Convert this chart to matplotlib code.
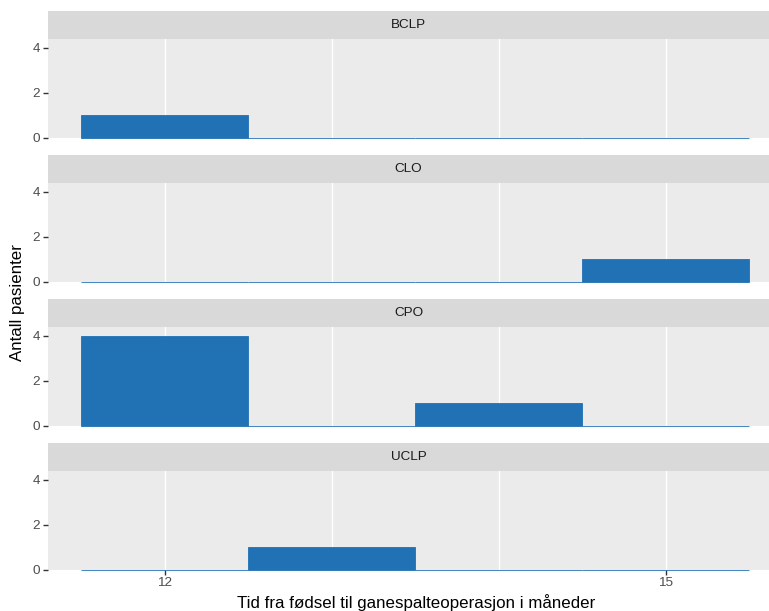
import numpy as np
import matplotlib.pyplot as plt

# diagnoses (facets) and counts per one-month bin
groups = ["BCLP", "CLO", "CPO", "UCLP"]
bin_centers = [12, 13, 14, 15]
counts = {
    "BCLP": [1, 0, 0, 0],
    "CLO": [0, 0, 0, 1],
    "CPO": [4, 0, 1, 0],
    "UCLP": [0, 1, 0, 0],
}
x_ticks = [12, 15]
y_ticks = [0, 2, 4]

BAR = "#2171B5"
W, H = 769, 611

plt.rcParams['font.family'] = ['Liberation Sans', 'DejaVu Sans']

fig = plt.figure(figsize=(W / 100, H / 100), dpi=100)

left, right = 48, 769
strip_tops = [11, 155, 299, 443]
strip_h = 28
panel_h = 98.7

for i, g in enumerate(groups):
    top = strip_tops[i]
    # strip
    sx = fig.add_axes([left / W, 1 - (top + strip_h) / H, (right - left) / W, strip_h / H])
    sx.set_facecolor("#D9D9D9")
    sx.set_xticks([])
    sx.set_yticks([])
    for s in sx.spines.values():
        s.set_visible(False)
    sx.text(0.5, 0.5, g, ha="center", va="center", fontsize=9.7, color="#1A1A1A",
            transform=sx.transAxes)

    # panel
    ax = fig.add_axes([left / W, 1 - (top + strip_h + panel_h) / H, (right - left) / W, panel_h / H])
    ax.set_facecolor("#EBEBEB")
    for s in ax.spines.values():
        s.set_visible(False)
    ax.set_xlim(11.3, 15.62)
    ax.set_ylim(0, 4.4)
    ax.set_xticks(x_ticks)
    ax.set_xticks([13, 14], minor=True)
    ax.grid(True, which="both", axis="x", color="white", linewidth=1.0)
    ax.set_axisbelow(True)
    ax.bar(bin_centers, counts[g], width=1.0, color=BAR, edgecolor=BAR, linewidth=0.6,
           zorder=3, clip_on=False)
    ax.set_yticks(y_ticks)
    ax.tick_params(axis="y", length=3.5, width=1.0, color="#333333", labelcolor="#4D4D4D",
                   labelsize=9.7, pad=2)
    ax.tick_params(axis="x", which="minor", length=0)
    if i < len(groups) - 1:
        ax.tick_params(axis="x", which="major", length=0, labelbottom=False)
    else:
        ax.tick_params(axis="x", which="major", length=3.5, width=1.0, color="#333333",
                       labelcolor="#4D4D4D", labelsize=9.7, pad=2)

fig.text(18 / W, 1 - 303 / H, "Antall pasienter", rotation=90, ha="center", va="center",
         fontsize=12.2, color="black")
fig.text(416 / W, 1 - 603 / H, "Tid fra fødsel til ganespalteoperasjon i måneder",
         ha="center", va="center", fontsize=12.2, color="black")

fig.savefig("out.png", dpi=100)
